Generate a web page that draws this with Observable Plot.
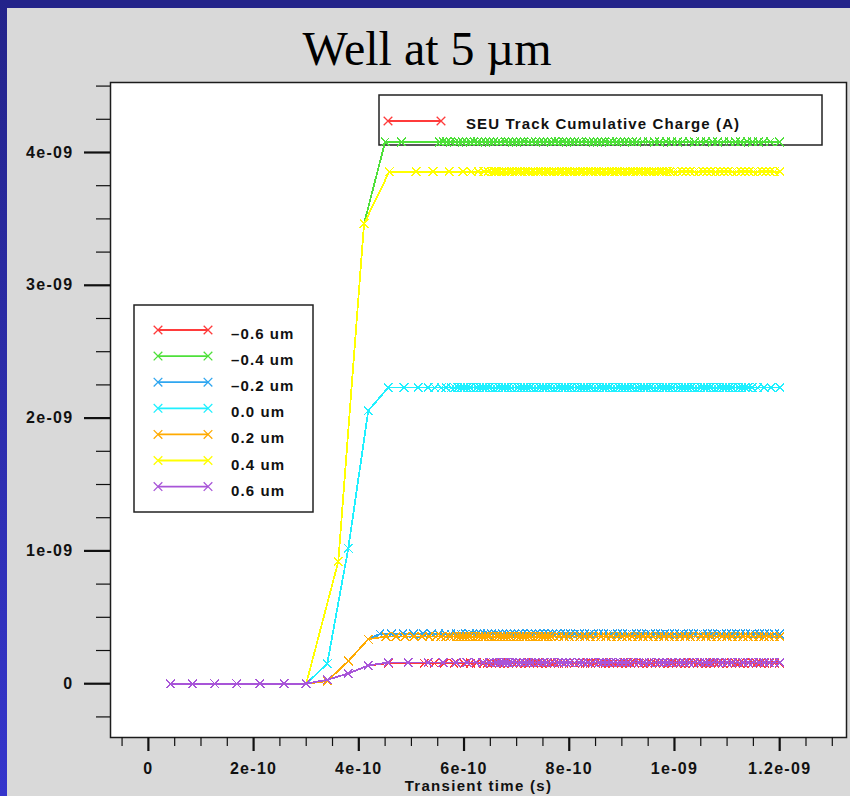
<!DOCTYPE html>
<html>
<head>
<meta charset="utf-8">
<script src="https://cdn.jsdelivr.net/npm/d3@7"></script>
<script src="https://cdn.jsdelivr.net/npm/@observablehq/plot@0.6"></script>
<style>
  body { margin: 0; }
  #page { position: relative; width: 850px; height: 796px; background: #d9d9d9; overflow: hidden; }
  #topbar { position: absolute; left: 0; top: 0; width: 850px; height: 8px; background: #23238a; }
  #leftbar { position: absolute; left: 0; top: 0; width: 7px; height: 796px; background: linear-gradient(#23238a, #3535cc); }
  #chart { position: absolute; left: 0; top: 0; }
  #title { position: absolute; left: 2px; top: 21px; width: 850px; text-align: center;
           font: 48px "Liberation Serif", "Times New Roman", serif; color: #000; }
</style>
</head>
<body>
<div id="page">
  <div id="topbar"></div>
  <div id="leftbar"></div>
  <div id="chart"></div>
  <div id="title">Well at 5 µm</div>
</div>
<script>
// Well offsets and their plot colours
const seriesNames = ["–0.6 um", "–0.4 um", "–0.2 um", "0.0 um", "0.2 um", "0.4 um", "0.6 um"];
const seriesColors = ["#ff3b3b", "#4ee03a", "#2fa6f0", "#1ff0ff", "#ffaa00", "#ffff00", "#a855d8"];

// Time in ps, charge in units of 1e-9 (A·s)
// Quiet stretch before the strike: every run sits at zero
const quietTimes = [42, 84, 126, 168, 212, 258, 300];

// Rising edge of each run
const riseT_m06 = [340, 380, 418];  const riseQ_m06 = [0.03, 0.077, 0.137];
const riseT_m04 = [361, 410];       const riseQ_m04 = [0.92, 3.464];
const riseT_m02 = [340, 380, 418];  const riseQ_m02 = [0.02, 0.17, 0.335];
const riseT_p00 = [340, 380, 418];  const riseQ_p00 = [0.15, 1.02, 2.056];
const riseT_p02 = [340, 380, 418];  const riseQ_p02 = [0.02, 0.17, 0.335];
const riseT_p04 = [361, 410];       const riseQ_p04 = [0.92, 3.464];
const riseT_p06 = [340, 380, 418];  const riseQ_p06 = [0.03, 0.077, 0.137];

// Settled charge of each run
const plateauLevels = [0.155, 4.08, 0.375, 2.23, 0.355, 3.856, 0.16];

// Solver time steps on the settled part of each run
const flatT_m06 = [456, 524, 543, 562, 581, 600, 612, 624, 636, 644, 652, 660, 668, 676, 684, 692, 700, 708, 716, 724, 732, 740, 748, 756, 764, 772, 780, 790, 800, 810, 820, 830, 840, 850, 860, 868, 876, 884, 892, 900, 908, 916, 924, 932, 940, 948, 956, 964, 972, 980, 988, 996, 1004, 1012, 1020, 1028, 1036, 1044, 1052, 1060, 1068, 1076, 1084, 1092, 1100, 1108, 1116, 1124, 1132, 1140, 1148, 1156, 1164, 1172, 1180, 1190, 1200];
const flatT_m04 = [450, 481, 553, 560, 567, 574, 583, 590, 597, 604, 612, 619, 626, 634, 641, 648, 656, 663, 670, 678, 685, 692, 700, 707, 714, 722, 729, 736, 744, 751, 758, 766, 773, 780, 788, 795, 802, 810, 817, 824, 832, 839, 846, 854, 861, 868, 876, 883, 890, 898, 905, 912, 920, 928, 940, 950, 962, 972, 984, 994, 1006, 1016, 1028, 1038, 1050, 1060, 1072, 1082, 1094, 1104, 1116, 1126, 1138, 1148, 1160, 1170, 1182, 1200];
const flatT_m02 = [440, 462, 484, 504, 522, 538, 552, 564, 575, 585, 594, 602, 610, 617, 624, 631, 638, 645, 652, 659, 666, 673, 680, 688, 696, 704, 712, 720, 728, 736, 744, 752, 760, 768, 776, 784, 793, 802, 811, 820, 829, 838, 847, 856, 865, 874, 883, 892, 901, 910, 919, 928, 937, 946, 955, 964, 973, 982, 991, 1000, 1009, 1018, 1027, 1036, 1045, 1054, 1063, 1072, 1081, 1090, 1099, 1108, 1117, 1126, 1135, 1144, 1153, 1162, 1171, 1180, 1190, 1200];
const flatT_p00 = [456, 486, 513, 532, 544, 557, 566, 576, 582, 588, 594, 600, 606, 612, 618, 624, 630, 636, 642, 648, 654, 660, 666, 672, 678, 684, 690, 696, 702, 708, 714, 720, 726, 732, 738, 744, 750, 756, 762, 768, 774, 780, 786, 792, 798, 804, 810, 816, 822, 828, 834, 840, 846, 852, 858, 864, 870, 876, 882, 888, 894, 900, 906, 912, 918, 924, 930, 936, 942, 948, 954, 960, 966, 972, 978, 984, 990, 996, 1002, 1008, 1014, 1020, 1026, 1032, 1038, 1044, 1050, 1056, 1062, 1068, 1074, 1080, 1086, 1092, 1098, 1104, 1110, 1116, 1122, 1128, 1134, 1140, 1148, 1158, 1170, 1184, 1200];
const flatT_p02 = [452, 470, 488, 505, 520, 534, 546, 556, 565, 573, 580, 586, 592, 598, 604, 610, 616, 622, 628, 634, 640, 646, 652, 658, 664, 670, 676, 682, 688, 694, 700, 706, 712, 718, 724, 730, 736, 742, 748, 754, 760, 766, 772, 780, 790, 800, 810, 820, 830, 840, 850, 860, 870, 880, 890, 900, 910, 920, 930, 940, 950, 960, 970, 980, 990, 1000, 1010, 1020, 1030, 1040, 1050, 1060, 1070, 1080, 1090, 1100, 1110, 1120, 1130, 1140, 1150, 1160, 1170, 1180, 1190, 1200];
const flatT_p04 = [458, 509, 541, 572, 598, 614, 627, 638, 646, 652, 657, 661, 666, 671, 676, 681, 686, 691, 696, 701, 706, 711, 716, 721, 726, 731, 736, 741, 746, 751, 756, 761, 766, 771, 776, 781, 786, 791, 796, 801, 806, 811, 816, 821, 826, 831, 836, 841, 846, 851, 856, 861, 866, 871, 876, 881, 886, 891, 896, 901, 906, 911, 916, 921, 926, 931, 936, 941, 946, 951, 956, 961, 966, 971, 976, 981, 986, 991, 998, 1006, 1014, 1022, 1030, 1038, 1046, 1054, 1062, 1070, 1078, 1086, 1094, 1102, 1110, 1118, 1126, 1134, 1142, 1150, 1158, 1166, 1174, 1182, 1190, 1200];
const flatT_p06 = [456, 494, 532, 560, 585, 605, 622, 636, 648, 656, 662, 668, 674, 680, 686, 692, 698, 706, 714, 722, 728, 734, 742, 750, 758, 768, 778, 786, 794, 802, 810, 818, 826, 836, 846, 856, 864, 872, 880, 888, 896, 904, 912, 922, 932, 942, 952, 962, 970, 978, 986, 994, 1002, 1010, 1018, 1028, 1038, 1048, 1058, 1066, 1074, 1082, 1090, 1100, 1110, 1120, 1130, 1140, 1150, 1160, 1170, 1180, 1190, 1200];

// Axis ticks (seconds / coulombs) and their printed labels
const xMajorTicks = [0, 2e-10, 4e-10, 6e-10, 8e-10, 1e-9, 1.2e-9];
const xTickLabels = ["0", "2e-10", "4e-10", "6e-10", "8e-10", "1e-09", "1.2e-09"];
const xMinorTicks = [-5e-11, 5e-11, 1e-10, 1.5e-10, 2.5e-10, 3e-10, 3.5e-10, 4.5e-10, 5e-10, 5.5e-10,
                     6.5e-10, 7e-10, 7.5e-10, 8.5e-10, 9e-10, 9.5e-10, 1.05e-9, 1.1e-9, 1.15e-9, 1.25e-9, 1.3e-9];
const yMajorTicks = [0, 1e-9, 2e-9, 3e-9, 4e-9];
const yTickLabels = ["0", "1e-09", "2e-09", "3e-09", "4e-09"];
const yMinorTicks = [-2.5e-10, 2.5e-10, 5e-10, 7.5e-10, 1.25e-9, 1.5e-9, 1.75e-9, 2.25e-9, 2.5e-9,
                     2.75e-9, 3.25e-9, 3.5e-9, 3.75e-9, 4.25e-9, 4.5e-9];

const xLabel = "Transient time (s)";
const seriesTitle = "SEU Track Cumulative Charge (A)";

// Build one table per run: quiet zeros, rising edge, then the settled level
const riseTimes = [riseT_m06, riseT_m04, riseT_m02, riseT_p00, riseT_p02, riseT_p04, riseT_p06];
const riseCharges = [riseQ_m06, riseQ_m04, riseQ_m02, riseQ_p00, riseQ_p02, riseQ_p04, riseQ_p06];
const flatTimes = [flatT_m06, flatT_m04, flatT_m02, flatT_p00, flatT_p02, flatT_p04, flatT_p06];

const runs = seriesNames.map((name, i) => {
  const rows = [];
  quietTimes.forEach(t => rows.push({t: t * 1e-12, q: 0}));
  riseTimes[i].forEach((t, j) => rows.push({t: t * 1e-12, q: riseCharges[i][j] * 1e-9}));
  flatTimes[i].forEach(t => rows.push({t: t * 1e-12, q: plateauLevels[i] * 1e-9}));
  return rows;
});

const markerR = 4;
const markerWidth = 1.3;
const fontStack = '"Liberation Sans", Arial, Helvetica, sans-serif';

// Aliased rendering keeps overlapping runs from bleeding into each other's colours
const runMarks = runs.flatMap((rows, i) => [
  Plot.line(rows, {x: "t", y: "q", stroke: seriesColors[i], strokeWidth: 1.8, shapeRendering: "crispEdges"}),
  Plot.dot(rows, {x: "t", y: "q", symbol: "times", r: markerR, stroke: seriesColors[i],
                  strokeWidth: markerWidth, shapeRendering: "crispEdges"})
]);

const chart = Plot.plot({
  width: 850,
  height: 796,
  marginLeft: 110,
  marginRight: 4,
  marginTop: 82,
  marginBottom: 59,
  x: {domain: [-7.2e-11, 1.327e-9], label: null},
  y: {domain: [-4.05e-10, 4.527e-9], label: null},
  style: {background: "transparent", fontFamily: fontStack, fontSize: "16px", fontWeight: "bold",
          letterSpacing: "1.3px", color: "#111"},
  marks: [
    Plot.frame({fill: "white", stroke: "#1c1c1c", strokeWidth: 1.5}),
    Plot.axisY(yMinorTicks, {tickSize: 14, tickFormat: () => "", strokeWidth: 1.2}),
    Plot.axisY(yMajorTicks, {tickSize: 26, tickPadding: 11, strokeWidth: 2.2,
                             tickFormat: d => yTickLabels[yMajorTicks.indexOf(d)]}),
    Plot.axisX(xMinorTicks, {tickSize: 9, tickFormat: () => "", strokeWidth: 1.2}),
    Plot.axisX(xMajorTicks, {tickSize: 14, tickPadding: 11, strokeWidth: 2.2,
                             tickFormat: d => xTickLabels[xMajorTicks.indexOf(d)]}),
    Plot.text([xLabel], {frameAnchor: "bottom", dy: 49, lineAnchor: "middle", fontSize: 15,
                         fontWeight: "bold", fill: "#111"}),
    ...runMarks
  ]
});

document.getElementById("chart").append(chart);

// Legend boxes, placed inside the frame beneath the curves
const svg = d3.select(chart.tagName.toLowerCase() === "svg" ? chart : chart.querySelector("svg"));
const frameNode = svg.select('[aria-label="frame"]').node();
const legend = document.createElementNS("http://www.w3.org/2000/svg", "g");
frameNode.after(legend);
const lg = d3.select(legend)
  .attr("font-family", fontStack).attr("font-weight", "bold").attr("font-size", 15)
  .attr("text-anchor", "start")
  .style("letter-spacing", "1.1px");
const times = d3.symbol(d3.symbolTimes, Math.PI * markerR * markerR);

function legendEntry(g, x1, x2, y, color) {
  g.append("line").attr("x1", x1).attr("x2", x2).attr("y1", y).attr("y2", y)
    .attr("stroke", color).attr("stroke-width", 1.8);
  [x1, x2].forEach(x => g.append("path").attr("d", times())
    .attr("transform", `translate(${x},${y})`).attr("fill", "none").attr("stroke", color)
    .attr("stroke-width", markerWidth));
}

// Quantity legend (top right)
lg.append("rect").attr("x", 379).attr("y", 95).attr("width", 443).attr("height", 50)
  .attr("fill", "white").attr("stroke", "#222").attr("stroke-width", 1.5);
legendEntry(lg, 388, 441, 121, seriesColors[0]);
lg.append("text").attr("x", 466).attr("y", 129).attr("fill", "#111").text(seriesTitle);

// Well offset legend (left)
lg.append("rect").attr("x", 134).attr("y", 305).attr("width", 179).attr("height", 207)
  .attr("fill", "white").attr("stroke", "#222").attr("stroke-width", 1.5);
seriesNames.forEach((name, i) => {
  const y = 330 + i * 26.1;
  legendEntry(lg, 158, 208, y, seriesColors[i]);
  lg.append("text").attr("x", 231).attr("y", y + 9).attr("fill", "#111").text(name);
});
</script>
</body>
</html>
